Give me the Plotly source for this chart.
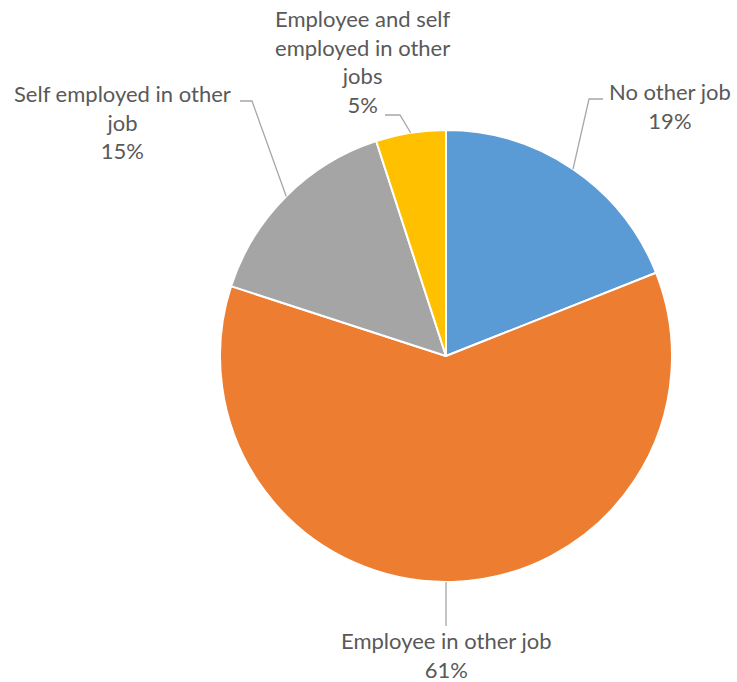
import math
import plotly.graph_objects as go

labels = ["No other job", "Employee in other job", "Self employed in other job",
          "Employee and self employed in other jobs"]
values = [19, 61, 15, 5]
label_text = ["No other job<br>19%", "Employee in other job<br>61%",
              "Self employed in other<br>job<br>15%",
              "Employee and self<br>employed in other<br>jobs<br>5%"]
colors = ["#5B9BD5", "#ED7D31", "#A5A5A5", "#FFC000"]

W, H = 737, 682
CX, CY, R = 446, 356, 226

# Style: text-block centres and leader elbows (pixels)
text_pos = [(670, 106), (446, 655), (122, 122), (363, 61)]
elbows = [[(589, 99), (603, 99)], [(446, 626)], [(252, 101), (240, 101)],
          [(400, 115), (385, 115)]]

def px(x, y):
    return x / W, 1 - y / H

fig = go.Figure(go.Pie(
    labels=labels, values=values, sort=False, direction="clockwise", rotation=0,
    marker=dict(colors=colors, line=dict(color="white", width=2)),
    textinfo="none", hoverinfo="label+percent", showlegend=False,
    domain=dict(x=[(CX - R) / W, (CX + R) / W], y=[(H - CY - R) / H, (H - CY + R) / H]),
))

total = sum(values)
cum = 0
shapes, annotations = [], []
for i, v in enumerate(values):
    mid = (cum + v / 2) / total * 2 * math.pi
    cum += v
    ex, ey = CX + R * math.sin(mid), CY - R * math.cos(mid)
    if i == 1:
        ex = elbows[i][0][0]
        ey = CY + math.sqrt(R * R - (ex - CX) ** 2)
    pts = [(ex, ey)] + elbows[i]
    path = "M " + " L ".join(f"{px(a, b)[0]:.5f},{px(a, b)[1]:.5f}" for a, b in pts)
    shapes.append(dict(type="path", xref="paper", yref="paper", path=path,
                       line=dict(color="#A6A6A6", width=1.3)))
    tx, ty = px(*text_pos[i])
    annotations.append(dict(x=tx, y=ty, xref="paper", yref="paper", text=label_text[i],
                            showarrow=False, align="center", xanchor="center",
                            yanchor="middle",
                            font=dict(family="Lato", size=22, color="#595959")))

fig.update_layout(width=W, height=H, margin=dict(l=0, r=0, t=0, b=0),
                  paper_bgcolor="white", plot_bgcolor="white",
                  shapes=shapes, annotations=annotations)
fig.write_html("out.html", config={"displayModeBar": False},
               post_script="document.body.style.margin='0';document.body.style.overflow='hidden';")
